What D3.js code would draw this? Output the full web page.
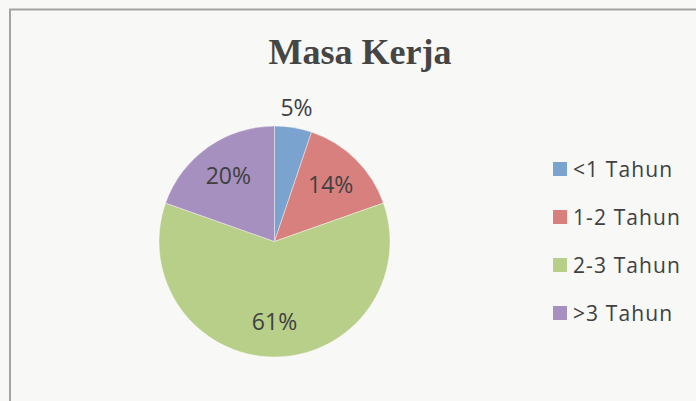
<!DOCTYPE html>
<html>
<head>
<meta charset="utf-8">
<script src="https://cdn.jsdelivr.net/npm/d3@7"></script>
<style>
  body { margin: 0; background: #f8f8f6; }
  svg { display: block; }
</style>
</head>
<body>
<div id="chart"></div>
<script>
// Data
var categories = ['<1 Tahun', '1-2 Tahun', '2-3 Tahun', '>3 Tahun']
var values = [5.2, 14.4, 60.8, 19.6]
var labels = ['5%', '14%', '61%', '20%']
var colors = ['#7ba3cf', '#d8807e', '#b8cf8a', '#a590bf']

var width = 696
var height = 401

var svg = d3
  .select('#chart')
  .append('svg')
  .attr('width', width)
  .attr('height', height)

// chart frame (only top and left edges are visible in the crop)
svg
  .append('path')
  .attr('d', 'M10,401 L10,9.5 L696,9.5')
  .attr('fill', 'none')
  .attr('stroke', '#a3a3a3')
  .attr('stroke-width', 2)

svg
  .append('text')
  .attr('x', 360)
  .attr('y', 64)
  .attr('text-anchor', 'middle')
  .attr('font-family', '"Liberation Serif", "Times New Roman", serif')
  .attr('font-weight', 'bold')
  .attr('font-size', 36)
  .attr('fill', '#454543')
  .text('Masa Kerja')

var data = categories.map((c, i) => ({ name: c, value: values[i], label: labels[i] }))

var radius = 115.5
var pie = d3.pie().sort(null).value(d => d.value)
var arc = d3.arc().innerRadius(0).outerRadius(radius)
var labelArc = d3.arc().innerRadius(80).outerRadius(80)
var outerLabelArc = d3.arc().innerRadius(135).outerRadius(135)

var colorScale = d3.scaleOrdinal().domain(categories).range(colors)

var pieG = svg.append('g').attr('transform', 'translate(274.5,241.5)')

pieG
  .selectAll('path')
  .data(pie(data))
  .enter()
  .append('path')
  .attr('d', arc)
  .attr('fill', d => colorScale(d.data.name))
  .attr('stroke', '#ffffff')
  .attr('stroke-opacity', 0.5)
  .attr('stroke-width', 0.8)

pieG
  .selectAll('.pct')
  .data(pie(data))
  .enter()
  .append('text')
  .attr('class', 'pct')
  .attr('transform', function(d) {
    var c = d.data.value < 10 ? outerLabelArc.centroid(d) : labelArc.centroid(d)
    return 'translate(' + c + ')'
  })
  .attr('dy', '0.35em')
  .attr('text-anchor', 'middle')
  .attr('font-family', '"Open Sans", sans-serif')
  .attr('font-size', 23)
  .attr('fill', '#404040')
  .text(d => d.data.label)

// legend
var legendY = d3.scalePoint().domain(categories).range([169, 313])

var legend = svg
  .selectAll('.legend')
  .data(categories)
  .enter()
  .append('g')
  .attr('class', 'legend')
  .attr('transform', d => 'translate(553,' + legendY(d) + ')')

legend
  .append('rect')
  .attr('x', 0)
  .attr('y', -7)
  .attr('width', 14)
  .attr('height', 14)
  .attr('fill', d => colorScale(d))

legend
  .append('text')
  .attr('x', 20)
  .attr('dy', '0.36em')
  .attr('font-family', '"Open Sans", sans-serif')
  .attr('font-size', 21)
  .attr('letter-spacing', 1.1)
  .attr('fill', '#404040')
  .text(d => d)
</script>
</body>
</html>
